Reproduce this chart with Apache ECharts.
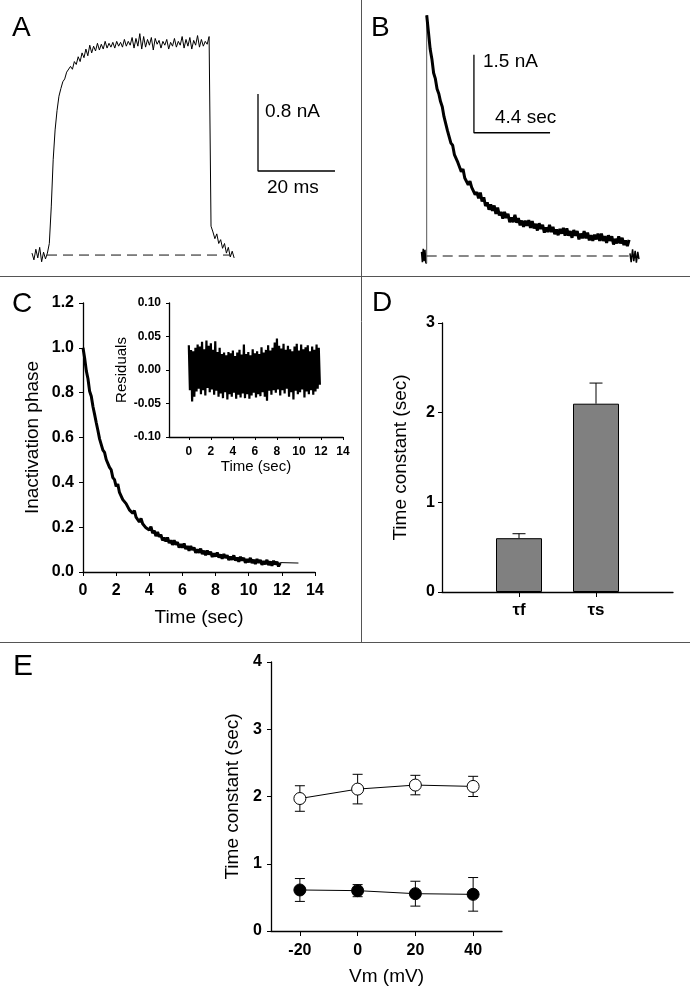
<!DOCTYPE html>
<html><head><meta charset="utf-8">
<script src="https://cdn.jsdelivr.net/npm/echarts@6/dist/echarts.min.js"></script>
<style>html,body{margin:0;padding:0;background:#fff}#c{width:690px;height:1005px}</style>
</head><body><div id="c"></div>
<script>
// ---------- Panel A: current trace (nA), sampled every 0.5 ms from 0 ms ----------
const aStepMs = 0.5;
const aTraceNA = [0.02,-0.05,0.06,-0.03,0.08,-0.07,0.03,-0.04,0.02,0.12,
0.50,0.99,1.30,1.50,1.65,1.73,1.80,1.83,1.90,1.89,
1.96,1.93,2.01,1.98,2.06,2.01,2.10,2.05,2.14,2.07,
2.18,2.10,2.17,2.12,2.20,2.13,2.19,2.14,2.22,2.15,
2.20,2.16,2.21,2.15,2.22,2.17,2.21,2.16,2.24,2.17,
2.22,2.18,2.26,2.15,2.25,2.17,2.30,2.14,2.27,2.16,
2.24,2.18,2.26,2.13,2.25,2.19,2.23,2.15,2.22,2.18,
2.24,2.14,2.21,2.17,2.25,2.16,2.22,2.18,2.27,2.15,
2.24,2.17,2.26,2.14,2.23,2.18,2.28,2.16,2.24,2.17,
2.22,2.19,2.27,0.30,0.24,0.17,0.22,0.12,0.16,0.07,
0.12,0.02,0.08,-0.02,0.04,-0.03];
const aBaselineMs = [3.9, 51.4];
const aScaleBar = {t: 58.7, i: 0.873, dt: 20, di: 0.8};
const aScaleLabels = ['0.8 nA', '20 ms'];

// ---------- Panel B: current trace (nA) ----------
const bPreNoise = [[-0.3,0.08],[-0.25,-0.12],[-0.2,0.14],[-0.15,-0.1],[-0.1,0.12],[-0.05,-0.13],[0,-0.14]];
const bStepS = 0.1;
const bDecayNA = [4.63,4.31,3.98,3.79,3.52,3.41,3.21,3.12,2.97,2.87,
2.68,2.65,2.41,2.39,2.17,2.13,1.95,1.96,1.80,1.80,
1.62,1.67,1.50,1.52,1.37,1.44,1.32,1.33,1.18,1.23,
1.11,1.22,1.05,1.13,0.96,1.03,0.89,0.99,0.87,0.97,
0.81,0.93,0.78,0.85,0.72,0.85,0.73,0.81,0.65,0.74,
0.65,0.79,0.64,0.73,0.59,0.68,0.56,0.68,0.58,0.69,
0.54,0.67,0.53,0.62,0.49,0.63,0.52,0.60,0.45,0.55,
0.46,0.60,0.46,0.56,0.42,0.51,0.40,0.52,0.43,0.54,
0.39,0.53,0.39,0.48,0.35,0.50,0.39,0.48,0.32,0.43,
0.34,0.48,0.34,0.45,0.30,0.40,0.29,0.41,0.32,0.43,
0.29,0.43,0.29,0.38,0.25,0.40,0.29,0.38,0.22,0.33,
0.24,0.38,0.24,0.35,0.21,0.30,0.19,0.31];
const bPostNoise = [[11.75,0.05],[11.82,-0.12],[11.9,0.13],[11.97,-0.1],[12.05,0.1],[12.12,-0.13],[12.2,0.08],[12.27,-0.06]];
const bBaselineS = [0, 11.75];
const bScaleBar = {t: 2.73, i: 2.37, dt: 4.4, di: 1.5};
const bScaleLabels = ['1.5 nA', '4.4 sec'];

// ---------- Panel C: normalized inactivation phase, every 0.1 s ----------
const cStepS = 0.1;
const cPhase = [1.000,0.954,0.897,0.862,0.806,0.784,0.738,0.703,0.666,0.631,
0.594,0.588,0.544,0.534,0.502,0.497,0.467,0.456,0.421,0.412,
0.382,0.392,0.355,0.356,0.323,0.331,0.305,0.308,0.277,0.284,
0.262,0.274,0.245,0.251,0.223,0.239,0.215,0.223,0.197,0.204,
0.187,0.202,0.174,0.184,0.160,0.178,0.157,0.166,0.141,0.153,
0.137,0.154,0.129,0.142,0.121,0.141,0.122,0.133,0.109,0.124,
0.109,0.127,0.102,0.116,0.095,0.116,0.098,0.109,0.086,0.101,
0.086,0.104,0.080,0.095,0.075,0.096,0.078,0.090,0.067,0.083,
0.069,0.087,0.064,0.078,0.059,0.080,0.063,0.075,0.053,0.068,
0.055,0.074,0.051,0.065,0.046,0.068,0.051,0.063,0.041,0.057,
0.044,0.063,0.040,0.055,0.036,0.058,0.041,0.053,0.032,0.048,
0.035,0.054,0.031,0.047,0.028,0.050,0.034,0.046,0.025,0.041];
const cFitTail = [[11.9,0.042],[13.0,0.040]];
const cResiduals = [0.037,-0.030,0.030,-0.047,0.028,-0.040,0.033,-0.032,0.038,-0.028,
0.035,-0.036,0.042,-0.030,0.031,-0.038,0.044,-0.027,0.036,-0.033,
0.040,-0.029,0.030,-0.037,0.043,-0.031,0.027,-0.040,0.033,-0.035,
0.024,-0.042,0.026,-0.033,0.022,-0.044,0.027,-0.036,0.025,-0.040,
0.029,-0.034,0.021,-0.043,0.026,-0.037,0.030,-0.041,0.023,-0.035,
0.038,-0.042,0.024,-0.036,0.027,-0.043,0.022,-0.038,0.031,-0.034,
0.025,-0.041,0.028,-0.036,0.024,-0.039,0.034,-0.033,0.026,-0.040,
0.030,-0.046,0.037,-0.031,0.029,-0.037,0.033,-0.030,0.041,-0.034,
0.047,-0.029,0.036,-0.038,0.032,-0.030,0.039,-0.035,0.030,-0.028,
0.036,-0.040,0.031,-0.033,0.028,-0.044,0.035,-0.031,0.039,-0.036,
0.029,-0.033,0.038,-0.029,0.031,-0.041,0.034,-0.032,0.037,-0.036,
0.028,-0.030,0.035,-0.037,0.030,-0.032,0.038,-0.028,0.033,-0.022];
const cInsetTicks = [0,2,4,6,8,10,12,14];

// ---------- Panel D: time constants ----------
const dCategories = ['τf', 'τs'];
const dValues = [0.60, 2.10];
const dErrors = [0.05, 0.23];

// ---------- Panel E: time constants vs Vm ----------
const eVm = [-20, 0, 20, 40];
const eTauSlow = [1.97, 2.11, 2.17, 2.15];
const eTauSlowErr = [0.19, 0.22, 0.145, 0.15];
const eTauFast = [0.61, 0.60, 0.555, 0.545];
const eTauFastErr = [0.17, 0.09, 0.185, 0.25];

// ---------- helpers ----------
const FONT = "'Liberation Sans', Arial, Helvetica, sans-serif";
function sampled(vals, t0, dt) { return vals.map((v, i) => [+(t0 + i * dt).toFixed(4), v]); }
function errRender(upperOnly, capHalf) {
  return function (params, api) {
    const x = api.value(0), lo = api.value(1), hi = api.value(2);
    const a = api.coord([x, lo]), b = api.coord([x, hi]);
    const st = {stroke: '#000', lineWidth: 1};
    const ch = [
      {type: 'line', shape: {x1: a[0], y1: a[1], x2: b[0], y2: b[1]}, style: st},
      {type: 'line', shape: {x1: b[0] - capHalf, y1: b[1], x2: b[0] + capHalf, y2: b[1]}, style: st}
    ];
    if (!upperOnly) ch.push({type: 'line', shape: {x1: a[0] - capHalf, y1: a[1], x2: a[0] + capHalf, y2: a[1]}, style: st});
    return {type: 'group', children: ch};
  };
}
const axLine = () => ({show: true, onZero: false, lineStyle: {color: '#000', width: 1.3}});
const tickOut = (len) => ({show: true, inside: false, length: len, lineStyle: {color: '#000', width: 1}});
const noSplit = {show: false};
const lbl = (size, margin, extra) => Object.assign({color: '#000', fontSize: size, fontFamily: FONT, fontWeight: 'bold', margin: margin}, extra || {});
const nameStyle = (size) => ({color: '#000', fontSize: size, fontFamily: FONT});
const thin = (color, w, type) => ({color: color, width: w, type: type || 'solid'});

const aData = sampled(aTraceNA, 0, aStepMs);
const bDecay = sampled(bDecayNA, 0, bStepS);
const cData = sampled(cPhase, 0, cStepS);
const rData = sampled(cResiduals, 0, cStepS);

const option = {
  animation: false,
  backgroundColor: '#fff',
  textStyle: {fontFamily: FONT},
  grid: [
    {left: 32, top: 14.4, width: 308, height: 259.9},
    {left: 418.05, top: 6.4, width: 224.9, height: 265.2},
    {left: 83, top: 303, width: 232, height: 269},
    {left: 169, top: 303, width: 174, height: 134},
    {left: 442, top: 323, width: 231, height: 269},
    {left: 271, top: 662, width: 231, height: 269}
  ],
  xAxis: [
    {gridIndex: 0, type: 'value', min: 0, max: 80, show: false},
    {gridIndex: 1, type: 'value', min: -0.5, max: 12.5, show: false},
    {gridIndex: 2, type: 'value', min: 0, max: 14, interval: 2, axisLine: axLine(), axisTick: tickOut(4), splitLine: noSplit,
     axisLabel: lbl(16, 11), name: 'Time (sec)', nameLocation: 'middle', nameGap: 36, nameTextStyle: nameStyle(19)},
    {gridIndex: 3, type: 'value', min: -1.8, max: 14, axisLine: axLine(), splitLine: noSplit,
     axisTick: Object.assign(tickOut(3), {customValues: cInsetTicks}),
     axisLabel: lbl(12, 9, {customValues: cInsetTicks}),
     name: 'Time (sec)', nameLocation: 'middle', nameGap: 22, nameTextStyle: nameStyle(15)},
    {gridIndex: 4, type: 'value', min: 0, max: 3, axisLine: axLine(), splitLine: noSplit,
     axisTick: Object.assign(tickOut(5), {customValues: [1, 2]}),
     axisLabel: lbl(17, 10, {customValues: [1, 2], formatter: v => dCategories[Math.round(v) - 1] || ''})},
    {gridIndex: 5, type: 'value', min: -30, max: 50, axisLine: axLine(), splitLine: noSplit,
     axisTick: Object.assign(tickOut(5), {customValues: eVm}),
     axisLabel: lbl(16, 12, {customValues: eVm}),
     name: 'Vm (mV)', nameLocation: 'middle', nameGap: 36, nameTextStyle: nameStyle(19)}
  ],
  yAxis: [
    {gridIndex: 0, type: 'value', min: -0.2, max: 2.5, show: false},
    {gridIndex: 1, type: 'value', min: -0.3, max: 4.8, show: false},
    {gridIndex: 2, type: 'value', min: 0, max: 1.2, interval: 0.2, axisLine: axLine(), axisTick: tickOut(4), splitLine: noSplit,
     axisLabel: lbl(16, 9, {formatter: v => v.toFixed(1)}), name: 'Inactivation phase', nameLocation: 'middle', nameGap: 41, nameTextStyle: nameStyle(19)},
    {gridIndex: 3, type: 'value', min: -0.1, max: 0.1, interval: 0.05, axisLine: axLine(), axisTick: tickOut(3), splitLine: noSplit,
     axisLabel: lbl(12, 8, {formatter: v => v.toFixed(2)}), name: 'Residuals', nameLocation: 'middle', nameGap: 40, nameTextStyle: nameStyle(15)},
    {gridIndex: 4, type: 'value', min: 0, max: 3, interval: 1, axisLine: axLine(), axisTick: tickOut(4), splitLine: noSplit,
     axisLabel: lbl(16, 7), name: 'Time constant (sec)', nameLocation: 'middle', nameGap: 32, nameTextStyle: nameStyle(19)},
    {gridIndex: 5, type: 'value', min: 0, max: 4, interval: 1, axisLine: axLine(), axisTick: tickOut(4), splitLine: noSplit,
     axisLabel: lbl(16, 9), name: 'Time constant (sec)', nameLocation: 'middle', nameGap: 29, nameTextStyle: nameStyle(19)}
  ],
  series: [
    // A
    {type: 'line', xAxisIndex: 0, yAxisIndex: 0, data: aData, symbol: 'none', clip: false, lineStyle: thin('#000', 1)},
    {type: 'line', xAxisIndex: 0, yAxisIndex: 0, data: aBaselineMs.map(t => [t, 0]), symbol: 'none', clip: false, lineStyle: thin('#111', 1, [10, 6])},
    {type: 'line', xAxisIndex: 0, yAxisIndex: 0, symbol: 'none', clip: false, lineStyle: thin('#000', 1.3),
     data: [[aScaleBar.t, aScaleBar.i + aScaleBar.di], [aScaleBar.t, aScaleBar.i], [aScaleBar.t + aScaleBar.dt, aScaleBar.i]]},
    // B
    {type: 'line', xAxisIndex: 1, yAxisIndex: 1, data: bPreNoise, symbol: 'none', clip: false, lineStyle: thin('#000', 1.5)},
    {type: 'line', xAxisIndex: 1, yAxisIndex: 1, data: [[0, bPreNoise[bPreNoise.length - 1][1]], bDecay[0]], symbol: 'none', clip: false, lineStyle: thin('#555', 1)},
    {type: 'line', xAxisIndex: 1, yAxisIndex: 1, data: bDecay, symbol: 'none', clip: false, lineStyle: thin('#000', 3)},
    {type: 'line', xAxisIndex: 1, yAxisIndex: 1, data: bPostNoise, symbol: 'none', clip: false, lineStyle: thin('#000', 1.5)},
    {type: 'line', xAxisIndex: 1, yAxisIndex: 1, data: bBaselineS.map(t => [t, 0]), symbol: 'none', clip: false, lineStyle: thin('#111', 1, [10, 6])},
    {type: 'line', xAxisIndex: 1, yAxisIndex: 1, symbol: 'none', clip: false, lineStyle: thin('#000', 1.3),
     data: [[bScaleBar.t, bScaleBar.i + bScaleBar.di], [bScaleBar.t, bScaleBar.i], [bScaleBar.t + bScaleBar.dt, bScaleBar.i]]},
    // C
    {type: 'line', xAxisIndex: 2, yAxisIndex: 2, data: cData, symbol: 'none', clip: false, lineStyle: thin('#000', 3)},
    {type: 'line', xAxisIndex: 2, yAxisIndex: 2, data: cFitTail, symbol: 'none', clip: false, lineStyle: thin('#000', 1)},
    {type: 'line', xAxisIndex: 3, yAxisIndex: 3, data: rData, symbol: 'none', clip: false, lineStyle: thin('#000', 2.2)},
    // D
    {type: 'bar', xAxisIndex: 4, yAxisIndex: 4, data: dValues.map((v, i) => [i + 1, v]), barWidth: 46,
     itemStyle: {color: '#808080', borderColor: '#000', borderWidth: 1}},
    {type: 'custom', xAxisIndex: 4, yAxisIndex: 4, renderItem: errRender(true, 6.5), encode: {x: 0, y: [1, 2]}, z: 3,
     data: dValues.map((v, i) => [i + 1, v, v + dErrors[i]])},
    // E
    {type: 'custom', xAxisIndex: 5, yAxisIndex: 5, renderItem: errRender(false, 5), encode: {x: 0, y: [1, 2]}, z: 1,
     data: eVm.map((x, i) => [x, eTauSlow[i] - eTauSlowErr[i], eTauSlow[i] + eTauSlowErr[i]])},
    {type: 'custom', xAxisIndex: 5, yAxisIndex: 5, renderItem: errRender(false, 5), encode: {x: 0, y: [1, 2]}, z: 1,
     data: eVm.map((x, i) => [x, eTauFast[i] - eTauFastErr[i], eTauFast[i] + eTauFastErr[i]])},
    {type: 'line', xAxisIndex: 5, yAxisIndex: 5, z: 3, data: eVm.map((x, i) => [x, eTauSlow[i]]), symbol: 'circle', symbolSize: 12,
     lineStyle: thin('#000', 1), itemStyle: {color: '#fff', borderColor: '#000', borderWidth: 1}},
    {type: 'line', xAxisIndex: 5, yAxisIndex: 5, z: 3, data: eVm.map((x, i) => [x, eTauFast[i]]), symbol: 'circle', symbolSize: 12,
     lineStyle: thin('#000', 1), itemStyle: {color: '#000', borderColor: '#000', borderWidth: 1}}
  ],
  graphic: [
    {type: 'line', shape: {x1: 361.5, y1: 0, x2: 361.5, y2: 643}, style: {stroke: '#555', lineWidth: 1}},
    {type: 'line', shape: {x1: 0, y1: 276.5, x2: 690, y2: 276.5}, style: {stroke: '#555', lineWidth: 1}},
    {type: 'line', shape: {x1: 0, y1: 642.5, x2: 690, y2: 642.5}, style: {stroke: '#555', lineWidth: 1}},
    {type: 'text', x: 12, y: 28, style: {text: 'A', fontSize: 28, fontFamily: FONT, fill: '#000', verticalAlign: 'middle'}},
    {type: 'text', x: 371, y: 28, style: {text: 'B', fontSize: 28, fontFamily: FONT, fill: '#000', verticalAlign: 'middle'}},
    {type: 'text', x: 12, y: 304, style: {text: 'C', fontSize: 28, fontFamily: FONT, fill: '#000', verticalAlign: 'middle'}},
    {type: 'text', x: 372, y: 303, style: {text: 'D', fontSize: 28, fontFamily: FONT, fill: '#000', verticalAlign: 'middle'}},
    {type: 'text', x: 13, y: 667, style: {text: 'E', fontSize: 30, fontFamily: FONT, fill: '#000', verticalAlign: 'middle'}},
    {type: 'text', x: 265, y: 112, style: {text: aScaleLabels[0], fontSize: 19, fontFamily: FONT, fill: '#000', verticalAlign: 'middle'}},
    {type: 'text', x: 267, y: 188, style: {text: aScaleLabels[1], fontSize: 19, fontFamily: FONT, fill: '#000', verticalAlign: 'middle'}},
    {type: 'text', x: 483, y: 62, style: {text: bScaleLabels[0], fontSize: 19, fontFamily: FONT, fill: '#000', verticalAlign: 'middle'}},
    {type: 'text', x: 495, y: 117.5, style: {text: bScaleLabels[1], fontSize: 19, fontFamily: FONT, fill: '#000', verticalAlign: 'middle'}}
  ]
};
const chart = echarts.init(document.getElementById('c'), null, {renderer: 'canvas'});
chart.setOption(option);
</script></body></html>
